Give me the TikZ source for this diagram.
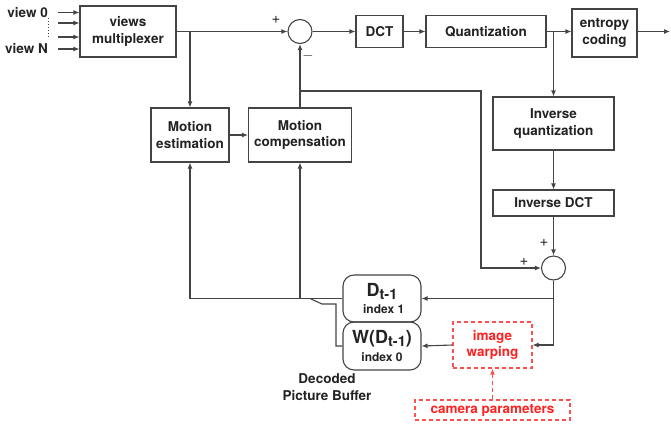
\documentclass[tikz,border=0pt]{standalone}
\usepackage{fontspec}
\setmainfont{TeX Gyre Heros}
\usetikzlibrary{arrows.meta}
\definecolor{lc}{HTML}{444444}
\definecolor{tc}{HTML}{222222}
\definecolor{rc}{HTML}{FF5050}
\definecolor{rt}{HTML}{FF2020}
\begin{document}
\begin{tikzpicture}[x=1pt,y=-1pt,
  every node/.style={font=\fontsize{13.5}{16.5}\selectfont\bfseries, text=tc},
  blk/.style={draw=lc, line width=1.1pt, inner sep=0pt, align=center},
  dpb/.style={blk, rounded corners=11pt, minimum width=78pt},
  ln/.style={draw=lc, line width=1.1pt},
  arr/.style={ln, -{Latex[length=6pt,width=5pt]}},
  sumc/.style={draw=lc, line width=1.1pt, circle, minimum size=24pt, inner sep=0pt},
  rbox/.style={draw=rc, dash pattern=on 4pt off 3pt, line width=1.1pt, text=rt, inner sep=0pt, align=center},
  rarr/.style={draw=rc, dash pattern=on 4pt off 3pt, line width=1.1pt, -{Latex[length=6pt,width=5pt]}},
  sgn/.style={font=\fontsize{15}{15}\selectfont, inner sep=0pt}]
\useasboundingbox (0,0) rectangle (671,424);

% inputs
\node[anchor=east, inner sep=0pt] (v0) at (48,12.5) {view 0};
\node[anchor=east, inner sep=0pt] (vN) at (48,49) {view N};
\coordinate (d1) at (48,18);
\coordinate (d2) at (48,38);
\draw[lc, dotted, line width=1pt] (d1) -- (d2);

\node[blk, minimum width=96pt, minimum height=51pt] (mux) at (128,31.5) {views\\multiplexer};
\coordinate (i0) at (58,12.5);
\coordinate (i1) at (58,23);
\coordinate (i2) at (58,37);
\coordinate (i3) at (58,49);
\foreach \c in {i0,i1,i2,i3} \draw[arr] (\c) -- (mux.west |- \c);

% top chain
\node[sumc] (s1) at (300,31.5) {};
\node[blk, minimum width=47pt, minimum height=32pt] (dct) at (379.5,31.5) {DCT};
\node[blk, minimum width=120pt, minimum height=32pt] (quant) at (486,31.5) {Quantization};
\node[blk, minimum width=65pt, minimum height=48pt] (ent) at (604.5,33) {entropy\\coding};
\coordinate (out) at (670,31.5);

\draw[arr] (mux.east) -- (s1.west);
\draw[arr] (s1.east) -- (dct.west);
\draw[arr] (dct.east) -- (quant.west);
\draw[arr] (quant.east) -- (ent.west |- quant.east);
\draw[arr] (ent.east |- out) -- (out);

\node[sgn] (p1) at (276,20) {+};
\node[sgn] (m1) at (308,56) {$-$};

% motion blocks
\node[blk, minimum width=78pt, minimum height=54pt] (mest) at (190,135) {Motion\\estimation};
\node[blk, minimum width=103pt, minimum height=54pt] (mcomp) at (300,135) {Motion\\compensation};
\coordinate (b1) at (mest.north |- mux.east);
\draw[arr] (b1) -- (mest.north);
\draw[arr] (mest.east) -- (mcomp.west);
\draw[arr] (mcomp.north) -- (s1.south);

% inverse path
\node[blk, minimum width=121pt, minimum height=53pt] (iq) at (553.5,123.5) {Inverse\\quantization};
\node[blk, minimum width=121pt, minimum height=26pt] (idct) at (553.5,203) {Inverse DCT};
\node[sumc] (s2) at (553.5,268) {};
\coordinate (b4) at (iq.north |- quant.east);
\draw[arr] (b4) -- (iq.north);
\draw[arr] (iq.south) -- (idct.north);
\draw[arr] (idct.south) -- (s2.north);

\coordinate (b2) at (300,91);
\coordinate (b3) at (481,91);
\draw[arr] (b2) -- (b3) |- (s2.west);
\node[sgn] (p2) at (524,262) {+};
\node[sgn] (p3) at (544,243) {+};

% decoded picture buffer
\node[dpb, minimum height=47pt] (dbox) at (382,298.5)
  {{\fontsize{18}{18}\selectfont D\raisebox{-3pt}{\fontsize{14.5}{14.5}\selectfont t-1}}\\[1pt]{\fontsize{12}{12}\selectfont\ index 1}};
\node[dpb, minimum height=48pt] (wbox) at (382,346)
  {{\fontsize{18}{18}\selectfont W(D\raisebox{-3pt}{\fontsize{14.5}{14.5}\selectfont t-1})}\\[1pt]{\fontsize{12}{12}\selectfont index 0}};
\node[align=center, inner sep=0pt] (dpbl) at (327,387) {Decoded\\Picture Buffer};

\node[rbox, minimum width=79pt, minimum height=46pt] (warp) at (492.5,345) {image\\warping};
\node[rbox, minimum width=155pt, minimum height=20pt] (cam) at (492.5,410) {camera parameters};

\draw[arr] (s2.south) |- (dbox.east);
\draw[arr] (s2.south) |- (warp.east);
\draw[arr] (warp.west) -- (wbox.east);
\draw[rarr] (cam.north) -- (warp.south);

\draw[ln] (dbox.west) -- (mest.south |- dbox.west);
\draw[arr] (mest.south |- dbox.west) -- (mest.south);
\draw[arr] (mcomp.south |- dbox.west) -- (mcomp.south);
\coordinate (sw1) at (336,304);
\coordinate (sw2) at (322,304);
\coordinate (sw3) at (310,298.5);
\draw[ln] (wbox.west) -| (sw1) -- (sw2) -- (sw3);
\end{tikzpicture}
\end{document}
